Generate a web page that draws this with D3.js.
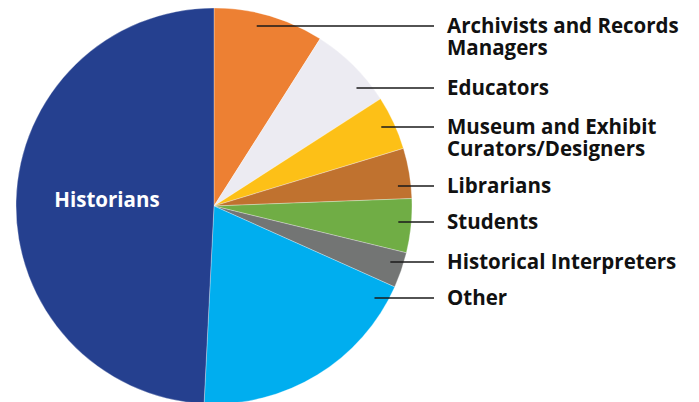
<!DOCTYPE html>
<html>
<head>
<meta charset="utf-8">
<script src="https://cdn.jsdelivr.net/npm/d3@7"></script>
<style>
  body { margin: 0; background: #fff; }
  svg { display: block; }
  text { font-family: "Open Sans", sans-serif; font-weight: 700; }
</style>
</head>
<body>
<div id="chart"></div>
<script>
const categories = ['Archivists and Records Managers', 'Educators', 'Museum and Exhibit Curators/Designers',
  'Librarians', 'Students', 'Historical Interpreters', 'Other', 'Historians']
const labelLines = [['Archivists and Records', 'Managers'], ['Educators'], ['Museum and Exhibit', 'Curators/Designers'],
  ['Librarians'], ['Students'], ['Historical Interpreters'], ['Other'], ['Historians']]
const shares = [9.0, 6.9, 4.4, 4.1, 4.4, 2.9, 19.1, 49.2]
const colors = ['#ed8033', '#ecebf2', '#fdc017', '#c0722f', '#70ad45', '#737574', '#00aeef', '#25408f']

const width = 699, height = 402
const cx = 214, cy = 206, radius = 198
// label rows for the first seven slices (historians is labelled inside)
const labelY = [26, 88, 127, 186, 222, 262, 298]
const lineEnd = 434, textX = 447, leaderR = 185
const fontSize = 20.5, lineGap = 22

const svg = d3.select('#chart').append('svg')
  .attr('width', width)
  .attr('height', height)

const pie = d3.pie().sort(null).value(d => d)
const arc = d3.arc().innerRadius(0).outerRadius(radius)
const arcs = pie(shares)

const g = svg.append('g').attr('transform', `translate(${cx}, ${cy})`)

g.selectAll('path.slice').data(arcs)
  .enter().append('path')
    .classed('slice', true)
    .attr('d', arc)
    .attr('fill', (d, i) => colors[i])
    .attr('stroke', '#fff')
    .attr('stroke-opacity', 0.5)
    .attr('stroke-width', 0.6)

// leaders
const outside = arcs.slice(0, 7)
svg.selectAll('line.leader').data(outside)
  .enter().append('line')
    .classed('leader', true)
    .attr('x1', (d, i) => cx + Math.sqrt(leaderR * leaderR - (labelY[i] - cy) ** 2))
    .attr('x2', lineEnd)
    .attr('y1', (d, i) => labelY[i])
    .attr('y2', (d, i) => labelY[i])
    .attr('stroke', '#1a1a1a')
    .attr('stroke-width', 1.5)

const labels = svg.selectAll('text.label').data(outside)
  .enter().append('text')
    .classed('label', true)
    .attr('x', textX)
    .attr('y', (d, i) => labelY[i])
    .attr('font-size', fontSize)
    .attr('fill', '#111')

labels.selectAll('tspan')
  .data((d, i) => labelLines[i])
  .enter().append('tspan')
    .attr('x', textX)
    .attr('dy', (d, j) => j === 0 ? '0.35em' : `${lineGap}px`)
    .text(d => d)

// historians
svg.append('text')
  .attr('x', 107)
  .attr('y', 200)
  .attr('dy', '0.35em')
  .attr('text-anchor', 'middle')
  .attr('font-size', fontSize)
  .attr('fill', '#fff')
  .text(labelLines[7][0])
</script>
</body>
</html>
